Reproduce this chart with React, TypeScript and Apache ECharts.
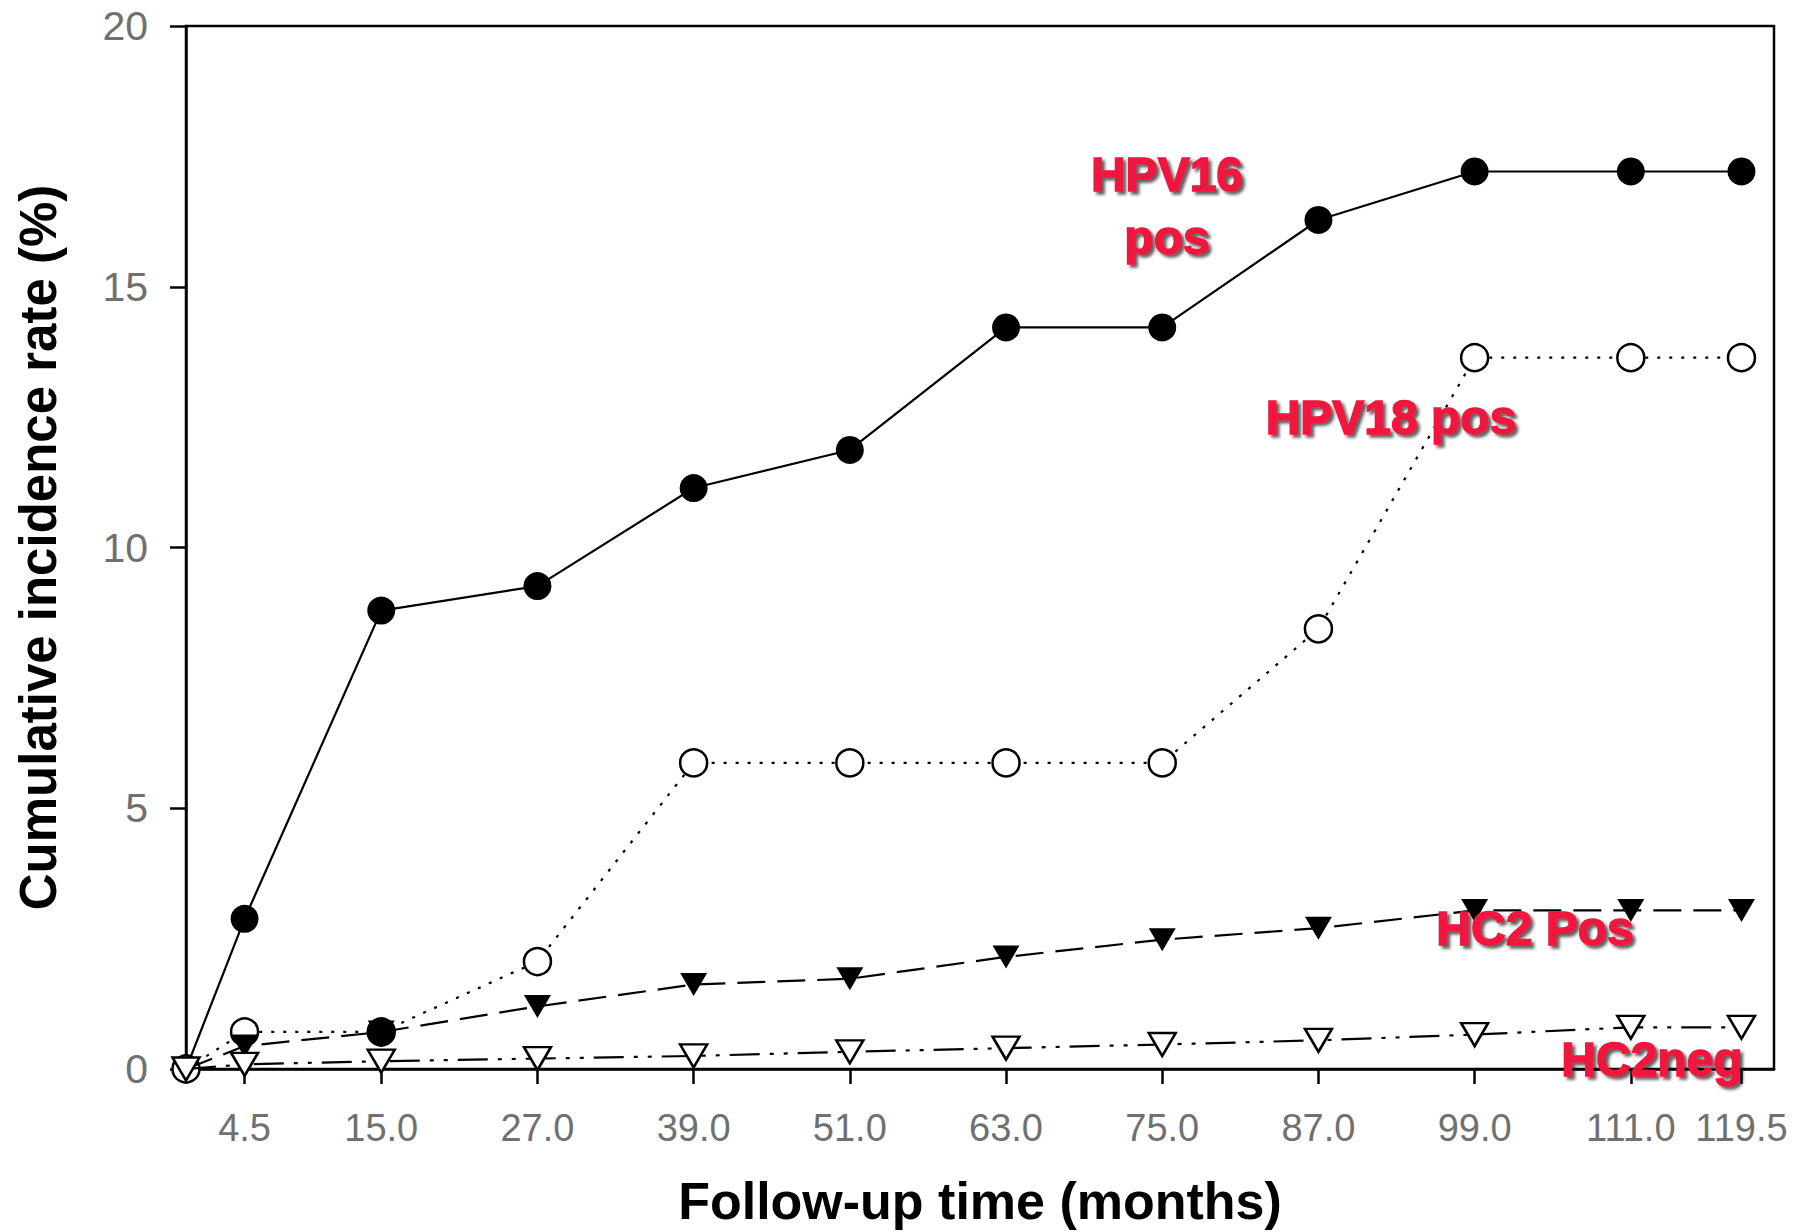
import React, { useEffect, useRef } from "react";
import * as echarts from "echarts";

const months = [0, 4.5, 15, 27, 39, 51, 63, 75, 87, 99, 111, 119.5];
const xTickValues = [4.5, 15, 27, 39, 51, 63, 75, 87, 99, 111, 119.5];
const hpv16 = [0, 2.88, 8.79, 9.26, 11.14, 11.87, 14.22, 14.22, 16.28, 17.21, 17.21, 17.21];
const hpv18 = [0, 0.71, 0.71, 2.06, 5.87, 5.87, 5.87, 5.87, 8.44, 13.64, 13.64, 13.64];
const hc2pos = [0, 0.44, 0.71, 1.2, 1.62, 1.73, 2.15, 2.48, 2.7, 3.04, 3.04, 3.04];
const hc2neg = [0, 0.09, 0.15, 0.2, 0.25, 0.33, 0.4, 0.47, 0.55, 0.66, 0.8, 0.8];

const labels = [
  { text: "HPV16\npos", x: 1167, y: 206 },
  { text: "HPV18 pos", x: 1391, y: 417 },
  { text: "HC2 Pos", x: 1535, y: 928 },
  { text: "HC2neg", x: 1652, y: 1059 },
];

const FONT = "'Liberation Sans', Arial, Helvetica, sans-serif";

export default function App() {
  const ref = useRef<HTMLDivElement>(null);
  useEffect(() => {
    document.body.style.margin = "0";
    const chart = echarts.init(ref.current!, null, { renderer: "svg" });
    const pair = (arr: number[]) => months.map((m, i) => [m, arr[i]]);
    const option: any = {
      animation: false,
      backgroundColor: "#ffffff",
      grid: {
        left: 186,
        top: 26,
        right: 41,
        bottom: 163,
        show: true,
        borderColor: "#000",
        borderWidth: 2.5,
        outerBoundsMode: "none",
      },
      xAxis: {
        type: "value",
        min: 0,
        max: 122,
        axisLine: { show: true, onZero: false, lineStyle: { color: "#000", width: 2.5 } },
        axisTick: { show: true, length: 15, lineStyle: { color: "#000", width: 2.5 }, customValues: xTickValues },
        axisLabel: {
          customValues: xTickValues,
          formatter: (v: number) => v.toFixed(1),
          color: "#707070",
          fontSize: 38,
          fontFamily: FONT,
          margin: 40,
        },
        splitLine: { show: false },
        name: "Follow-up time (months)",
        nameLocation: "middle",
        nameGap: 106,
        nameTextStyle: { fontSize: 52, fontWeight: "bold", color: "#000", fontFamily: FONT },
      },
      yAxis: {
        type: "value",
        min: 0,
        max: 20,
        interval: 5,
        axisLine: { show: true, lineStyle: { color: "#000", width: 2.5 } },
        axisTick: { show: true, length: 16, lineStyle: { color: "#000", width: 2.5 } },
        axisLabel: { color: "#707070", fontSize: 41, fontFamily: FONT, margin: 38 },
        splitLine: { show: false },
        name: "Cumulative incidence rate (%)",
        nameLocation: "middle",
        nameGap: 122,
        nameTextStyle: { fontSize: 51, fontWeight: "bold", color: "#000", fontFamily: FONT },
      },
      series: [
        {
          name: "HPV16 pos",
          type: "line",
          data: pair(hpv16),
          symbol: "circle",
          symbolSize: 28,
          showAllSymbol: true,
          itemStyle: { color: "#000" },
          lineStyle: { color: "#000", width: 2.2, type: "solid" },
          z: 2,
        },
        {
          name: "HPV18 pos",
          type: "line",
          data: pair(hpv18).map((d, i) =>
            i === 2 ? { value: d, itemStyle: { color: "#000" } } : d
          ),
          symbol: "circle",
          symbolSize: 27,
          showAllSymbol: true,
          itemStyle: { color: "#fff", borderColor: "#000", borderWidth: 2.5 },
          lineStyle: { color: "#000", width: 2.2, type: [3, 9] },
          z: 3,
        },
        {
          name: "HC2 Pos",
          type: "line",
          data: pair(hc2pos),
          symbol: "triangle",
          symbolRotate: 180,
          symbolSize: [27, 23],
          showAllSymbol: true,
          itemStyle: { color: "#000" },
          lineStyle: { color: "#000", width: 2.2, type: [28, 12] },
          z: 4,
        },
        {
          name: "HC2neg",
          type: "line",
          data: pair(hc2neg),
          symbol: "triangle",
          symbolRotate: 180,
          symbolSize: [27, 23],
          showAllSymbol: true,
          itemStyle: { color: "#fff", borderColor: "#000", borderWidth: 2.5 },
          lineStyle: { color: "#000", width: 2.2, type: [30, 10, 4, 10, 4, 10] },
          z: 5,
        },
      ],
      graphic: labels.map((l) => ({
        type: "text",
        x: l.x,
        y: l.y,
        z: 100,
        style: {
          text: l.text,
          fill: "#F0143C",
          stroke: "#F0143C",
          lineWidth: 1.5,
          font: `bold 48px ${FONT}`,
          align: "center",
          verticalAlign: "middle",
          textAlign: "center",
          textVerticalAlign: "middle",
          lineHeight: 63,
          textShadowColor: "rgba(30,30,30,0.7)",
          textShadowOffsetX: 3,
          textShadowOffsetY: 3,
          textShadowBlur: 3,
          shadowColor: "rgba(30,30,30,0.7)",
          shadowOffsetX: 3,
          shadowOffsetY: 3,
          shadowBlur: 3,
        },
      })),
    };
    chart.setOption(option);
    return () => chart.dispose();
  }, []);
  return <div ref={ref} style={{ width: 1815, height: 1232 }} />;
}
